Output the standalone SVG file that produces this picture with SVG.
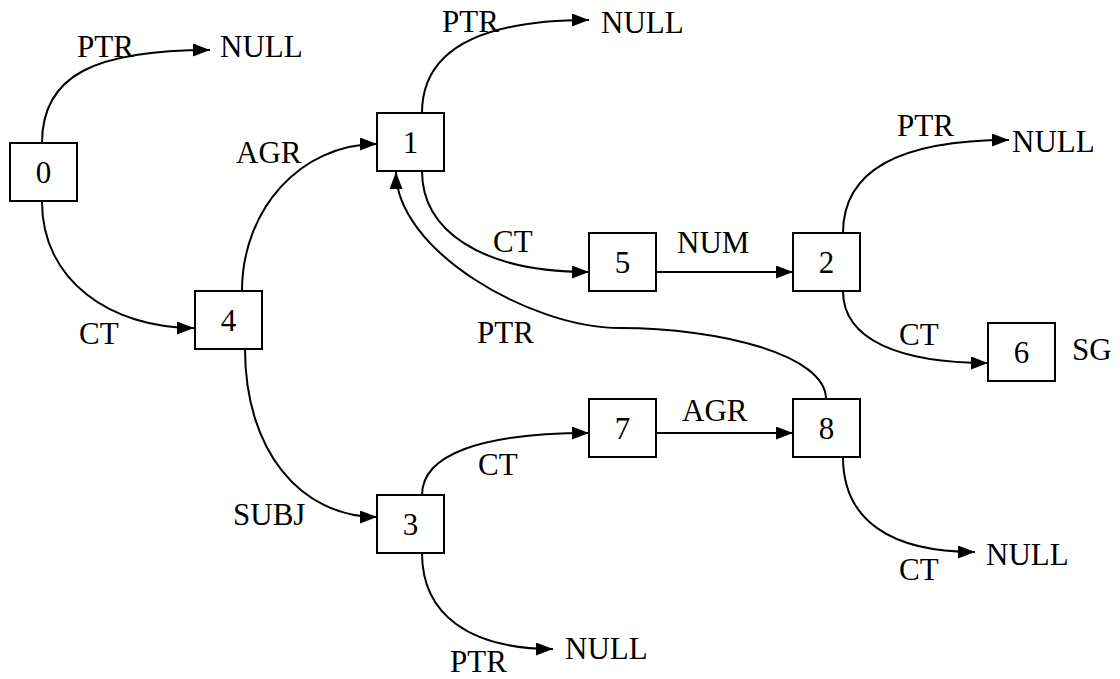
<svg xmlns="http://www.w3.org/2000/svg" width="1120" height="679" viewBox="0 0 1120 679">
<style>
.box{fill:#fff;stroke:#000;stroke-width:2}
.num{font-family:"Liberation Serif","Times New Roman",serif;font-size:31px;text-anchor:middle;fill:#000}
.lbl{font-family:"Liberation Serif","Times New Roman",serif;font-size:31px;fill:#000}
.edge{fill:none;stroke:#000;stroke-width:2;marker-end:url(#arr)}
</style>
<defs>
<marker id="arr" markerUnits="userSpaceOnUse" markerWidth="18" markerHeight="14" refX="17" refY="6.5" orient="auto">
<path d="M0,0 L17,6.5 L0,13 z" fill="#000"/>
</marker>
</defs>
<rect width="1120" height="679" fill="#fff"/>
<g id="connectors">
<path class="edge" d="M42,143 C42,75 95,50 210,50"/>
<path class="edge" d="M42,202 C42,280 110,328 194,328"/>
<path class="edge" d="M242,291 C242,210 300,144 377,144"/>
<path class="edge" d="M422,113 C422,50 480,20 589,20"/>
<path class="edge" d="M422,171 C422,230 480,272 589,272"/>
<path class="edge" d="M656,272 L793,272"/>
<path class="edge" d="M843,233 C843,170 900,140 1009,140"/>
<path class="edge" d="M843,291 C843,340 900,363 988,363"/>
<path class="edge" d="M245,349 C245,450 300,517 377,517"/>
<path class="edge" d="M422,495 C422,455 480,433 589,433"/>
<path class="edge" d="M422,553 C422,615 470,649 553,649"/>
<path class="edge" d="M656,433 L793,433"/>
<path class="edge" d="M843,457 C843,520 890,552 975,552"/>
<path class="edge" d="M826,399 C826,355 720,328 620,328 C530,328 396,250 396,172"/>
</g>
<g id="edge-labels">
<text class="lbl" x="77" y="57">PTR</text>
<text class="lbl" x="220" y="57">NULL</text>
<text class="lbl" x="236" y="163">AGR</text>
<text class="lbl" x="79" y="344">CT</text>
<text class="lbl" x="442" y="32">PTR</text>
<text class="lbl" x="601" y="33">NULL</text>
<text class="lbl" x="493" y="252">CT</text>
<text class="lbl" x="677" y="253">NUM</text>
<text class="lbl" x="897" y="136">PTR</text>
<text class="lbl" x="1012" y="152">NULL</text>
<text class="lbl" x="899" y="345">CT</text>
<text class="lbl" x="1072" y="360">SG</text>
<text class="lbl" x="477" y="343">PTR</text>
<text class="lbl" x="682" y="421">AGR</text>
<text class="lbl" x="478" y="475">CT</text>
<text class="lbl" x="233" y="525">SUBJ</text>
<text class="lbl" x="899" y="580">CT</text>
<text class="lbl" x="986" y="565">NULL</text>
<text class="lbl" x="450" y="672">PTR</text>
<text class="lbl" x="565" y="659">NULL</text>
</g>
<g id="node0"><rect class="box" x="10" y="143" width="67" height="58"/><text class="num" x="43.5" y="183">0</text></g>
<g id="node4"><rect class="box" x="195" y="291" width="67" height="58"/><text class="num" x="228.5" y="331">4</text></g>
<g id="node1"><rect class="box" x="377" y="113" width="67" height="58"/><text class="num" x="410.5" y="153">1</text></g>
<g id="node5"><rect class="box" x="589" y="233" width="67" height="58"/><text class="num" x="622.5" y="273">5</text></g>
<g id="node2"><rect class="box" x="793" y="233" width="67" height="58"/><text class="num" x="826.5" y="273">2</text></g>
<g id="node6"><rect class="box" x="988" y="323" width="67" height="58"/><text class="num" x="1021.5" y="363">6</text></g>
<g id="node3"><rect class="box" x="377" y="495" width="67" height="58"/><text class="num" x="410.5" y="535">3</text></g>
<g id="node7"><rect class="box" x="589" y="399" width="67" height="58"/><text class="num" x="622.5" y="439">7</text></g>
<g id="node8"><rect class="box" x="793" y="399" width="67" height="58"/><text class="num" x="826.5" y="439">8</text></g>
</svg>
